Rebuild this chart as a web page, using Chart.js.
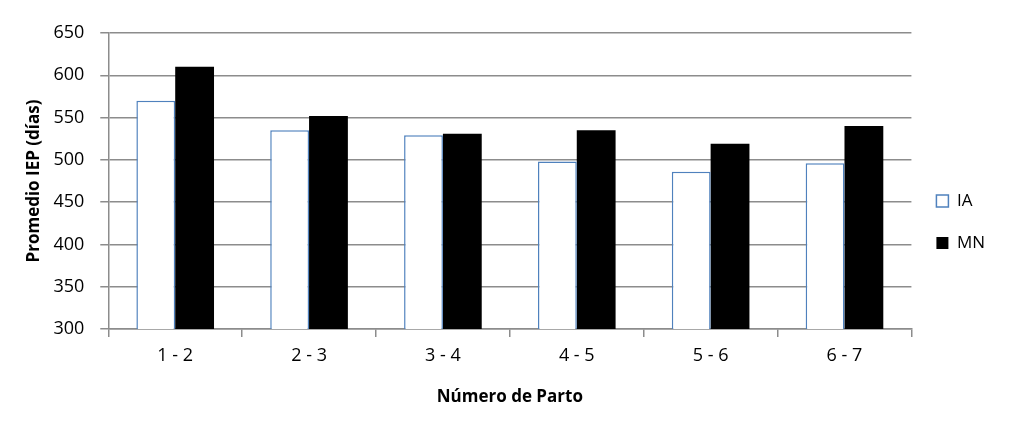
<!DOCTYPE html>
<html>
<head>
<meta charset="utf-8">
<script src="https://cdn.jsdelivr.net/npm/chart.js@4"></script>
<style>
  html, body { margin: 0; padding: 0; background: #fff; }
  #wrap { width: 1017px; height: 426px; }
</style>
</head>
<body>
<div id="wrap"><canvas id="chart"></canvas></div>
<script>
// categorias y valores
var partos = ['1 - 2', '2 - 3', '3 - 4', '4 - 5', '5 - 6', '6 - 7'];
var valoresIA = [570, 535, 529, 498, 486, 496];
var valoresMN = [610, 552, 531, 535, 519, 540];
var ticksY = [300, 350, 400, 450, 500, 550, 600, 650];

var gris = '#8c8c8c';
var fuente = '"Open Sans", Lato, sans-serif';

var ctx = document.getElementById('chart');

var chart = new Chart(ctx, {
    type: 'bar',
    data: {
        labels: partos,
        datasets: [
            {
                label: 'IA',
                data: valoresIA,
                backgroundColor: '#ffffff',
                borderColor: '#4f81bd',
                borderWidth: 1.5,
                categoryPercentage: 0.58,
                barPercentage: 1.0
            },
            {
                label: 'MN',
                data: valoresMN,
                backgroundColor: '#000000',
                borderColor: '#000000',
                borderWidth: 0,
                categoryPercentage: 0.58,
                barPercentage: 1.0
            }
        ]
    },
    options: {
        responsive: true,
        maintainAspectRatio: false,
        animation: false,
        layout: { padding: { top: 33, left: 24, right: 22, bottom: 15 } },
        plugins: {
            tooltip: { enabled: false },
            legend: {
                position: 'right',
                align: 'center',
                labels: {
                    boxWidth: 12,
                    boxHeight: 12,
                    padding: 25,
                    color: '#000',
                    font: { family: fuente, size: 17 }
                }
            }
        },
        scales: {
            x: {
                grid: {
                    display: true,
                    drawOnChartArea: false,
                    drawTicks: true,
                    tickLength: 8,
                    color: gris,
                    lineWidth: 1.5,
                    offset: true
                },
                border: { color: gris, width: 1.5 },
                ticks: {
                    color: '#000',
                    padding: 8,
                    font: { family: fuente, size: 18 }
                },
                title: {
                    display: true,
                    text: 'Número de Parto',
                    color: '#000',
                    padding: { top: 12 },
                    font: { family: fuente, size: 17, weight: 'bold' }
                }
            },
            y: {
                min: 300,
                max: 650,
                afterBuildTicks: function (axis) {
                    axis.ticks = ticksY.map(function (v) { return { value: v }; });
                },
                grid: {
                    color: gris,
                    lineWidth: 1.5,
                    tickLength: 8
                },
                border: { color: gris, width: 1.5 },
                ticks: {
                    color: '#000',
                    padding: 16,
                    font: { family: fuente, size: 18 }
                },
                title: {
                    display: true,
                    text: 'Promedio IEP (días)',
                    color: '#000',
                    padding: { top: 0, bottom: -7 },
                    font: { family: fuente, size: 17, weight: 'bold' }
                }
            }
        }
    }
});
</script>
</body>
</html>
